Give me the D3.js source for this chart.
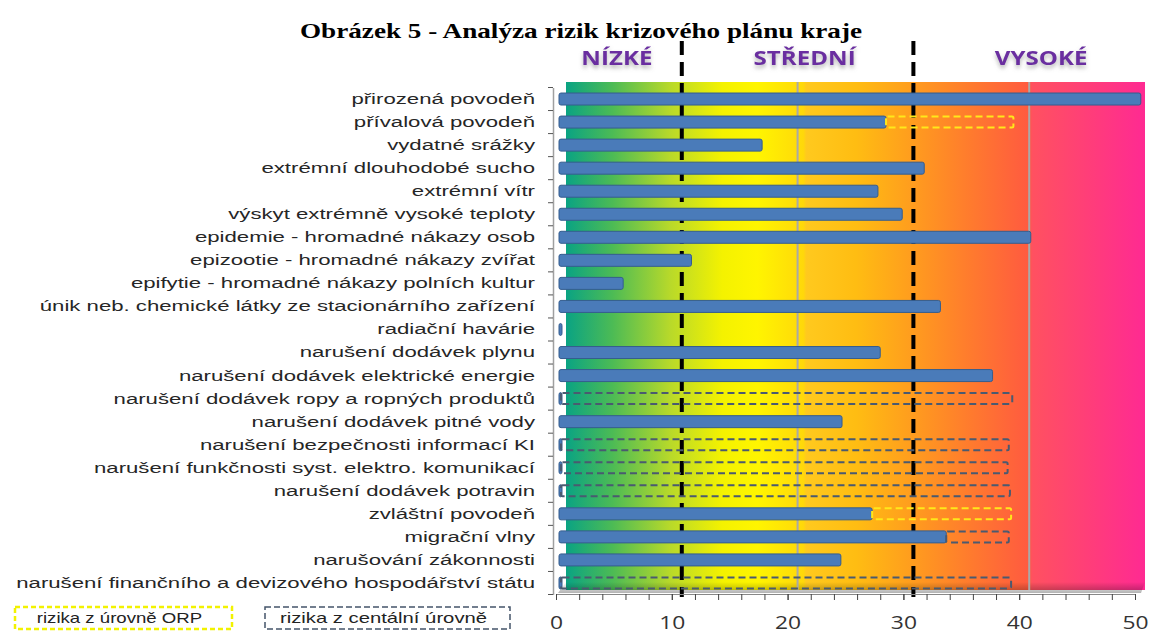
<!DOCTYPE html>
<html>
<head>
<meta charset="utf-8">
<script src="https://cdn.jsdelivr.net/npm/d3@7"></script>
<style>
  body { margin: 0; background: #fff; }
  svg { display: block; }
</style>
</head>
<body>
<div class="chart"></div>
<script>
const categories = [
  'přirozená povodeň',
  'přívalová povodeň',
  'vydatné srážky',
  'extrémní dlouhodobé sucho',
  'extrémní vítr',
  'výskyt extrémně vysoké teploty',
  'epidemie - hromadné nákazy osob',
  'epizootie - hromadné nákazy zvířat',
  'epifytie - hromadné nákazy polních kultur',
  'únik neb. chemické látky ze stacionárního zařízení',
  'radiační havárie',
  'narušení dodávek plynu',
  'narušení dodávek elektrické energie',
  'narušení dodávek ropy a ropných produktů',
  'narušení dodávek pitné vody',
  'narušení bezpečnosti informací KI',
  'narušení funkčnosti syst. elektro. komunikací',
  'narušení dodávek potravin',
  'zvláštní povodeň',
  'migrační vlny',
  'narušování zákonnosti',
  'narušení finančního a devizového hospodářství státu'
];
// krajská hodnota rizika (modrý pruh)
const values = [50.5, 28.5, 17.8, 31.8, 27.8, 29.9, 41.0, 11.7, 5.8, 33.2, 0.3,
                28.0, 37.7, 0.3, 24.7, 0.3, 0.3, 0.3, 27.3, 33.7, 24.6, 0.3];
// kam až sahá riziko z úrovně ORP (0 = není)
const orpTo = [0, 39.5, 0, 0, 0, 0, 0, 0, 0, 0, 0,
               0, 0, 0, 0, 0, 0, 0, 39.3, 0, 0, 0];
// kam až sahá riziko z centrální úrovně (0 = není)
const centralTo = [0, 0, 0, 0, 0, 0, 0, 0, 0, 0, 0,
                   0, 0, 39.4, 0, 39.1, 39.0, 39.2, 0, 39.1, 0, 39.3];
const zoneNames = ['NÍZKÉ', 'STŘEDNÍ', 'VYSOKÉ'];
const zoneBounds = [0, 10, 30, 50];
const xTicks = [0, 10, 20, 30, 40, 50];
const gridValues = [20, 40];
const legendNames = ['rizika z úrovně ORP', 'rizika z centální úrovně'];

const w = 1152, h = 635;
const depth = 10;          // posun zadní stěny (3D efekt)
const wallTop = 82, wallBottom = 590;

const x = d3.scaleLinear().domain([0, 50]).range([556, 1135]);
const y = d3.scaleBand().domain(categories).range([87.5, 594.5]);

// obrázek v originále je vodorovně roztažený -> roztáhnout i texty
function stretch(sel, k) {
  sel.each(function() {
    const len = this.getComputedTextLength();
    d3.select(this).attr('textLength', len * k).attr('lengthAdjust', 'spacingAndGlyphs');
  });
}

const svg = d3.select('div.chart')
  .append('svg')
  .attr('width', w)
  .attr('height', h);

const defs = svg.append('defs');
const grad = defs.append('linearGradient')
  .attr('id', 'wall')
  .attr('gradientUnits', 'userSpaceOnUse')
  .attr('x1', x(0) + depth).attr('x2', x(50) + depth)
  .attr('y1', 0).attr('y2', 0);
[[0, '#0aa383'], [0.08, '#4cbb55'], [0.18, '#b8d92a'], [0.27, '#f4f200'],
 [0.33, '#fff500'], [0.41, '#ffd80a'], [0.415, '#ffc91e'], [0.5, '#ffbd12'],
 [0.6, '#ff9c1e'], [0.7, '#ff7a2e'], [0.8, '#ff5a40'], [0.805, '#ff5160'],
 [1, '#ff2a92']].forEach(s => {
  grad.append('stop').attr('offset', s[0]).attr('stop-color', s[1]);
});
const floorGrad = defs.append('linearGradient')
  .attr('id', 'floor').attr('x1', 0).attr('x2', 0).attr('y1', 0).attr('y2', 1);
floorGrad.append('stop').attr('offset', 0).attr('stop-color', '#000').attr('stop-opacity', 0);
floorGrad.append('stop').attr('offset', 1).attr('stop-color', '#000').attr('stop-opacity', 0.3);

const glow = defs.append('filter').attr('id', 'glow')
  .attr('x', '-20%').attr('y', '-40%').attr('width', '140%').attr('height', '190%');
glow.append('feDropShadow')
  .attr('dx', 0).attr('dy', 3).attr('stdDeviation', 2)
  .attr('flood-color', '#777').attr('flood-opacity', 0.55);

// title
svg.append('text')
  .attr('x', 581).attr('y', 38)
  .attr('text-anchor', 'middle')
  .attr('font-family', '"Liberation Serif", "Times New Roman", serif')
  .attr('font-weight', 'bold')
  .attr('font-size', 22)
  .attr('fill', '#000')
  .text('Obrázek 5 - Analýza rizik krizového plánu kraje')
  .attr('textLength', 562)
  .attr('lengthAdjust', 'spacingAndGlyphs');

// background wall
svg.append('rect')
  .attr('x', x(0) + depth).attr('y', wallTop)
  .attr('width', x(50) - x(0)).attr('height', wallBottom - wallTop)
  .attr('fill', 'url(#wall)');
svg.append('polygon')
  .attr('points', [[x(0) + depth, wallBottom - 8], [x(50) + depth, wallBottom - 8],
                   [x(50) + depth - 4, wallBottom + 3], [x(0) + 2, wallBottom + 3]].join(' '))
  .attr('fill', 'url(#floor)');

svg.selectAll('line.grid')
  .data(gridValues)
  .enter()
  .append('line')
  .attr('class', 'grid')
  .attr('x1', d => x(d) + depth).attr('x2', d => x(d) + depth)
  .attr('y1', wallTop).attr('y2', wallBottom)
  .attr('stroke', '#a9a9a9')
  .attr('stroke-width', 2);

// zone borders + names
svg.selectAll('line.zone')
  .data(zoneBounds.slice(1, 3))
  .enter()
  .append('line')
  .attr('class', 'zone')
  .attr('x1', d => x(d) + depth).attr('x2', d => x(d) + depth)
  .attr('y1', 41).attr('y2', 597)
  .attr('stroke', '#000')
  .attr('stroke-width', 4)
  .attr('stroke-dasharray', '14,7');

const zoneShift = [-7, 7, 12];
svg.selectAll('text.zone')
  .data(zoneNames)
  .enter()
  .append('text')
  .attr('class', 'zone')
  .attr('x', (d, i) => (x(zoneBounds[i]) + x(zoneBounds[i + 1])) / 2 + depth + zoneShift[i])
  .attr('y', 65)
  .attr('text-anchor', 'middle')
  .attr('font-family', '"Open Sans", sans-serif')
  .attr('font-weight', 'bold')
  .attr('font-size', 19)
  .attr('fill', '#6b2fa0')
  .attr('filter', 'url(#glow)')
  .text(d => d)
  .call(stretch, 1.27);

// bars
const barH = 12;
const rows = categories.map((c, i) => ({c: c, v: values[i], orp: orpTo[i], cen: centralTo[i]}));

svg.selectAll('rect.bar')
  .data(rows)
  .enter()
  .append('rect')
  .attr('class', 'bar')
  .attr('x', x(0) + 3)
  .attr('y', d => y(d.c) + y.bandwidth() / 2 - barH / 2)
  .attr('width', d => Math.max(x(d.v) - x(0) - 3, 3))
  .attr('height', barH)
  .attr('rx', 2)
  .attr('fill', '#4a7bb9')
  .attr('stroke', '#355d8e')
  .attr('stroke-width', 1);

// dashed extensions
const boxH = 11;
function dashed(key, color, width) {
  svg.selectAll('rect.' + key)
    .data(rows.filter(d => d[key] > 0))
    .enter()
    .append('rect')
    .attr('class', key)
    .attr('x', d => Math.max(x(d.v), x(0) + 5))
    .attr('y', d => y(d.c) + y.bandwidth() / 2 - boxH / 2)
    .attr('width', d => x(d[key]) - Math.max(x(d.v), x(0) + 5))
    .attr('height', boxH)
    .attr('rx', 1.5)
    .attr('fill', 'none')
    .attr('stroke', color)
    .attr('stroke-width', width)
    .attr('stroke-dasharray', '7,4');
}
dashed('cen', '#4a5a70', 2);
dashed('orp', '#ffe81a', 2);

// category axis
const yAxis = d3.axisLeft(y).tickSize(0).tickPadding(18);
const gy = svg.append('g')
  .attr('transform', 'translate(553,0)')
  .call(yAxis);
gy.select('.domain').attr('stroke', '#a0a0a0').attr('stroke-width', 1.5);
gy.selectAll('text')
  .attr('font-family', '"Liberation Sans", Arial, sans-serif')
  .attr('font-size', 15.5)
  .attr('fill', '#262626')
  .call(stretch, 1.43);
svg.selectAll('line.ytick')
  .data(categories.concat(['end']))
  .enter()
  .append('line')
  .attr('class', 'ytick')
  .attr('x1', 548).attr('x2', 553)
  .attr('y1', (d, i) => y.range()[0] + i * y.step())
  .attr('y2', (d, i) => y.range()[0] + i * y.step())
  .attr('stroke', '#555');

// value axis
const minor = d3.axisBottom(x).tickValues(d3.range(0, 51, 2)).tickSize(6).tickFormat('');
svg.append('g')
  .attr('transform', 'translate(0,594)')
  .call(minor)
  .call(g => g.selectAll('line').attr('stroke', '#444'))
  .call(g => g.select('.domain').attr('stroke', '#888'));

const xAxis = d3.axisBottom(x).tickValues(xTicks).tickSize(6).tickPadding(16);
svg.append('g')
  .attr('transform', 'translate(0,594)')
  .call(xAxis)
  .call(g => g.select('.domain').remove())
  .call(g => g.selectAll('line').attr('stroke', '#444'))
  .call(g => g.selectAll('text')
    .attr('font-family', '"Open Sans", sans-serif')
    .attr('font-size', 19)
    .attr('fill', '#333')
    .call(stretch, 1.2));

// legend
const legend = [
  {name: legendNames[0], x: 15, w: 217, color: '#f2f200', width: 2.5, dash: '5,3', k: 1.24},
  {name: legendNames[1], x: 265, w: 245, color: '#44546a', width: 1.5, dash: '6,3', k: 1.35}
];
const lg = svg.selectAll('g.legend')
  .data(legend)
  .enter()
  .append('g')
  .attr('class', 'legend');
lg.append('rect')
  .attr('x', d => d.x).attr('y', 607)
  .attr('width', d => d.w).attr('height', 22)
  .attr('fill', 'none')
  .attr('stroke', d => d.color)
  .attr('stroke-width', d => d.width)
  .attr('stroke-dasharray', d => d.dash);
lg.append('text')
  .attr('x', d => d.x + d.w / 2 - 4)
  .attr('y', 623)
  .attr('text-anchor', 'middle')
  .attr('font-family', '"Liberation Sans", Arial, sans-serif')
  .attr('font-size', 15)
  .attr('fill', '#222')
  .text(d => d.name)
  .each(function(d) { stretch(d3.select(this), d.k); });
</script>
</body>
</html>
